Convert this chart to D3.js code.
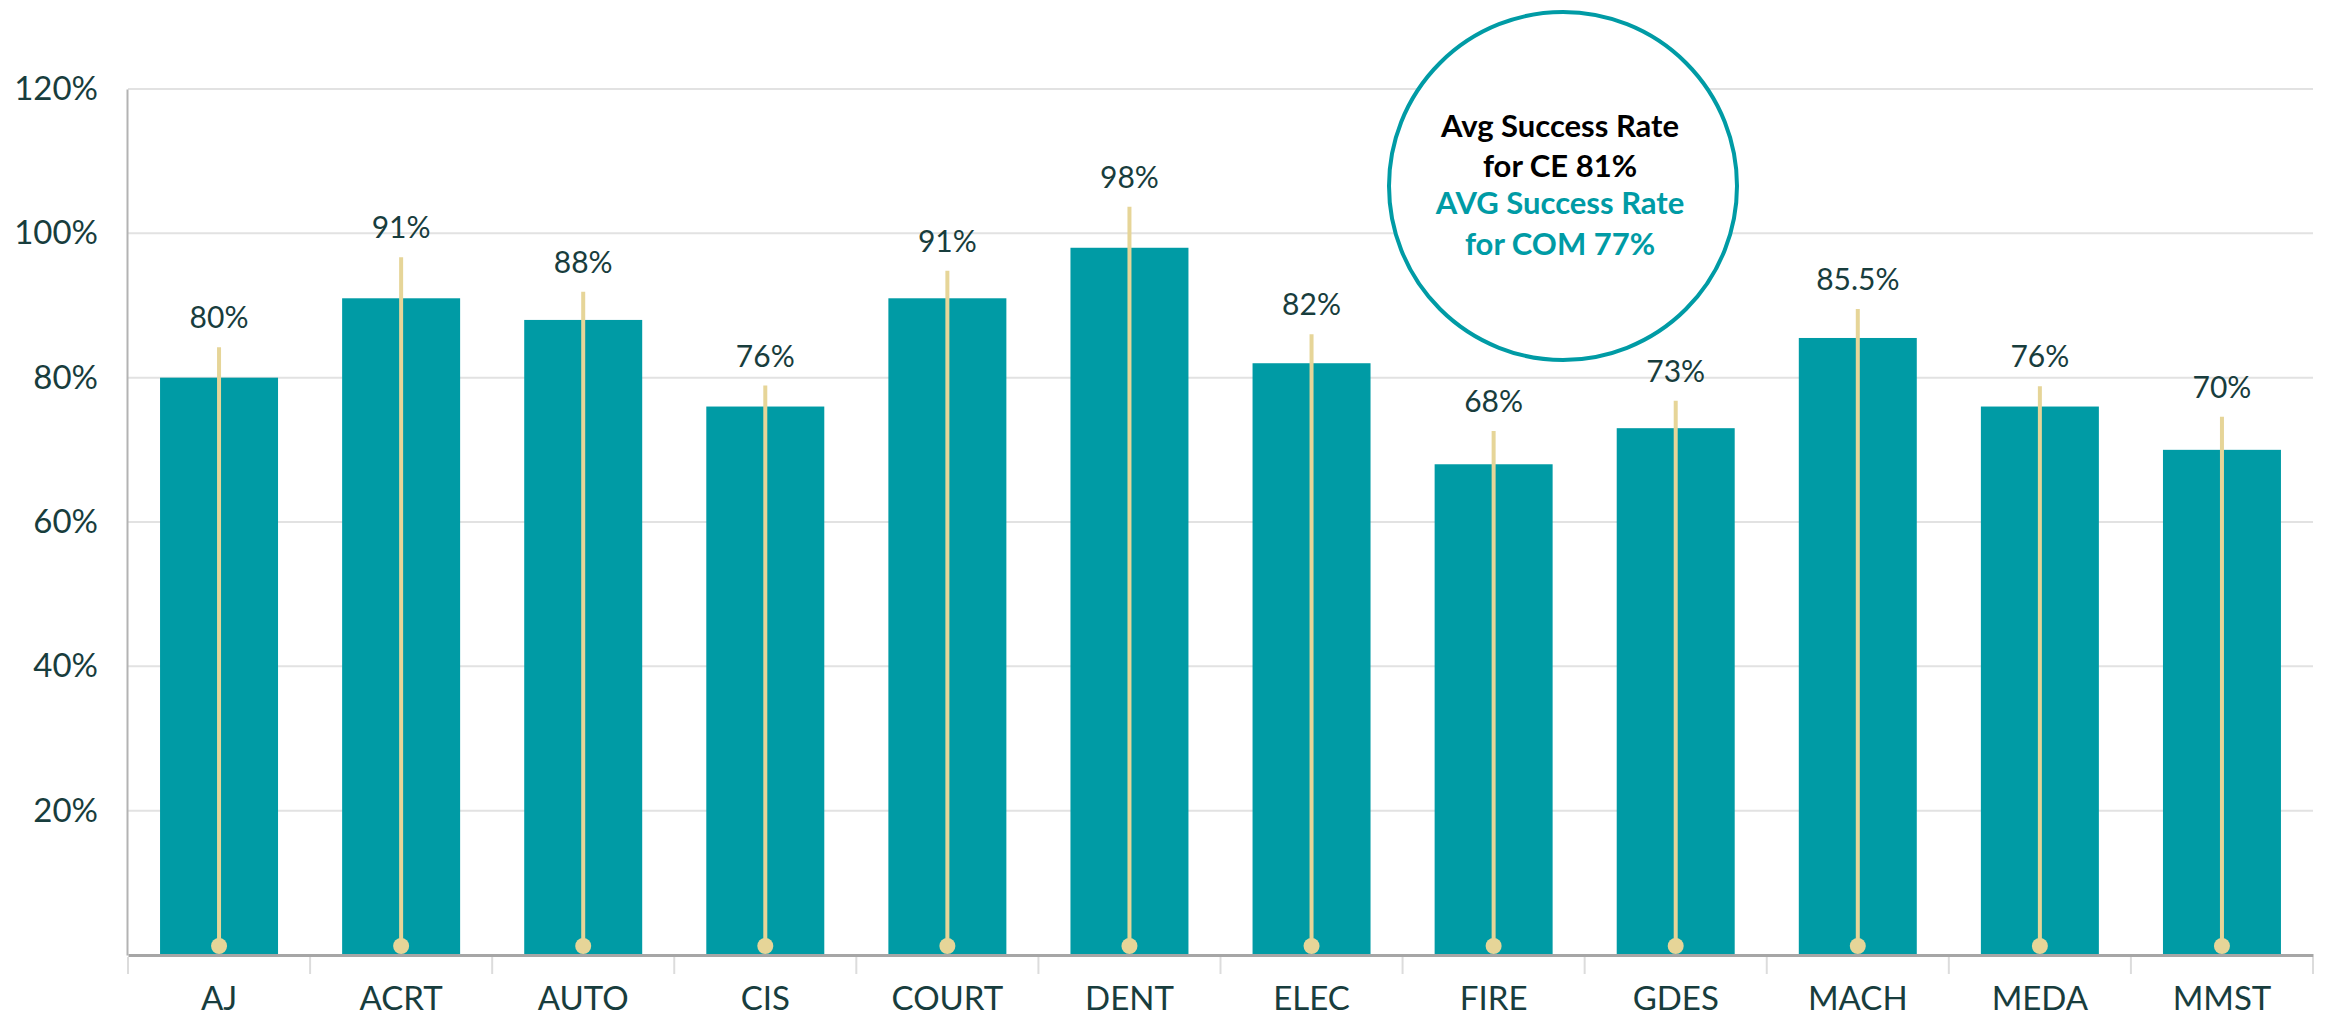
<!DOCTYPE html>
<html>
<head>
<meta charset="utf-8">
<script src="https://cdn.jsdelivr.net/npm/d3@7"></script>
<style>
    body { margin: 0; background: #fff; }
    svg { display: block; font-family: Lato, 'Open Sans', sans-serif; }
</style>
</head>
<body>
<svg></svg>
<script>
const w = 2325;
const h = 1018;
const m = { top: 89, right: 12, bottom: 63, left: 128 };

// data
const programs = ['AJ', 'ACRT', 'AUTO', 'CIS', 'COURT', 'DENT', 'ELEC', 'FIRE', 'GDES', 'MACH', 'MEDA', 'MMST'];
const successRate = [80, 91, 88, 76, 91, 98, 82, 68, 73, 85.5, 76, 70];
const upperRate = [84.2, 96.7, 91.9, 78.9, 94.8, 103.7, 86.0, 72.6, 76.8, 89.5, 78.8, 74.6];
const yTicks = [20, 40, 60, 80, 100, 120];
const noteCE = ['Avg Success Rate', 'for CE 81%'];
const noteCOM = ['AVG Success Rate', 'for COM 77%'];

const data = programs.map((p, i) => ({ name: p, value: successRate[i], upper: upperRate[i] }));

const textColor = '#183d3d';
const teal = '#009ba5';
const gold = '#e6d598';

// append svg
const svg = d3.select('svg')
    .attr('width', w)
    .attr('height', h);

// scales
const xScale = d3.scaleBand()
    .domain(programs)
    .range([m.left, w - m.right])
    .paddingInner(0.352)
    .paddingOuter(0.176);

const yScale = d3.scaleLinear()
    .domain([0, 120])
    .range([h - m.bottom, m.top]);

// gridlines
svg.append('g')
    .selectAll('line')
    .data(yTicks)
    .enter()
    .append('line')
    .attr('x1', m.left)
    .attr('x2', w - m.right)
    .attr('y1', d => yScale(d))
    .attr('y2', d => yScale(d))
    .attr('stroke', '#e2e2e2')
    .attr('stroke-width', 2);

// y-axis
const yAxis = d3.axisLeft(yScale)
    .tickValues(yTicks)
    .tickFormat(d => d + '%')
    .tickSize(0)
    .tickPadding(29);

const yG = svg.append('g')
    .attr('id', 'y-axis')
    .attr('transform', 'translate(' + (m.left - 1) + ',0)')
    .call(yAxis);
yG.select('.domain')
    .attr('stroke', '#b3b3b3')
    .attr('stroke-width', 2);
yG.selectAll('text')
    .attr('fill', textColor)
    .style('font-size', '33px')
    .style('font-family', 'Lato');

// bars
svg.selectAll('rect.bar')
    .data(data)
    .enter()
    .append('rect')
    .attr('class', 'bar')
    .attr('x', d => xScale(d.name))
    .attr('width', xScale.bandwidth())
    .attr('y', d => yScale(d.value))
    .attr('height', d => yScale(0) - yScale(d.value))
    .attr('fill', teal);

// lollipop lines
const cx = d => xScale(d.name) + xScale.bandwidth() / 2;

svg.selectAll('line.stick')
    .data(data)
    .enter()
    .append('line')
    .attr('class', 'stick')
    .attr('x1', cx)
    .attr('x2', cx)
    .attr('y1', d => yScale(d.upper))
    .attr('y2', yScale(0) - 9)
    .attr('stroke', gold)
    .attr('stroke-width', 4);

svg.selectAll('circle.dot')
    .data(data)
    .enter()
    .append('circle')
    .attr('class', 'dot')
    .attr('cx', cx)
    .attr('cy', yScale(0) - 9)
    .attr('r', 8)
    .attr('fill', gold);

// value labels
svg.selectAll('text.val')
    .data(data)
    .enter()
    .append('text')
    .attr('class', 'val')
    .attr('x', cx)
    .attr('y', d => yScale(d.upper) - 19)
    .attr('text-anchor', 'middle')
    .attr('fill', textColor)
    .style('font-size', '30px')
    .text(d => d.value + '%');

// x-axis
const xAxis = d3.axisBottom(xScale)
    .tickSize(0)
    .tickPadding(32);

const xG = svg.append('g')
    .attr('id', 'x-axis')
    .attr('transform', 'translate(0,' + (h - m.bottom) + ')')
    .call(xAxis);
xG.select('.domain')
    .attr('stroke', '#a6a6a6')
    .attr('stroke-width', 3);
xG.selectAll('text')
    .attr('fill', textColor)
    .style('font-size', '33px')
    .style('font-family', 'Lato');

// category dividers
const bounds = programs.map(p => xScale(p) - xScale.step() * xScale.paddingOuter())
    .concat([w - m.right]);
xG.selectAll('line.div')
    .data(bounds)
    .enter()
    .append('line')
    .attr('class', 'div')
    .attr('x1', d => d)
    .attr('x2', d => d)
    .attr('y1', 2)
    .attr('y2', 19)
    .attr('stroke', '#dcdcdc')
    .attr('stroke-width', 2);

// annotation bubble
const note = svg.append('g')
    .attr('transform', 'translate(1563,186)');

note.append('circle')
    .attr('r', 174)
    .attr('fill', '#fff')
    .attr('stroke', teal)
    .attr('stroke-width', 4);

note.selectAll('text.ce')
    .data(noteCE)
    .enter()
    .append('text')
    .attr('class', 'ce')
    .attr('x', -3)
    .attr('y', (d, i) => -49 + i * 40)
    .attr('text-anchor', 'middle')
    .attr('fill', '#000')
    .style('font-size', '31px')
    .style('font-weight', 'bold')
    .text(d => d);

note.selectAll('text.com')
    .data(noteCOM)
    .enter()
    .append('text')
    .attr('class', 'com')
    .attr('x', -3)
    .attr('y', (d, i) => 28 + i * 41)
    .attr('text-anchor', 'middle')
    .attr('fill', teal)
    .style('font-size', '31px')
    .style('font-weight', 'bold')
    .text(d => d);
</script>
</body>
</html>
